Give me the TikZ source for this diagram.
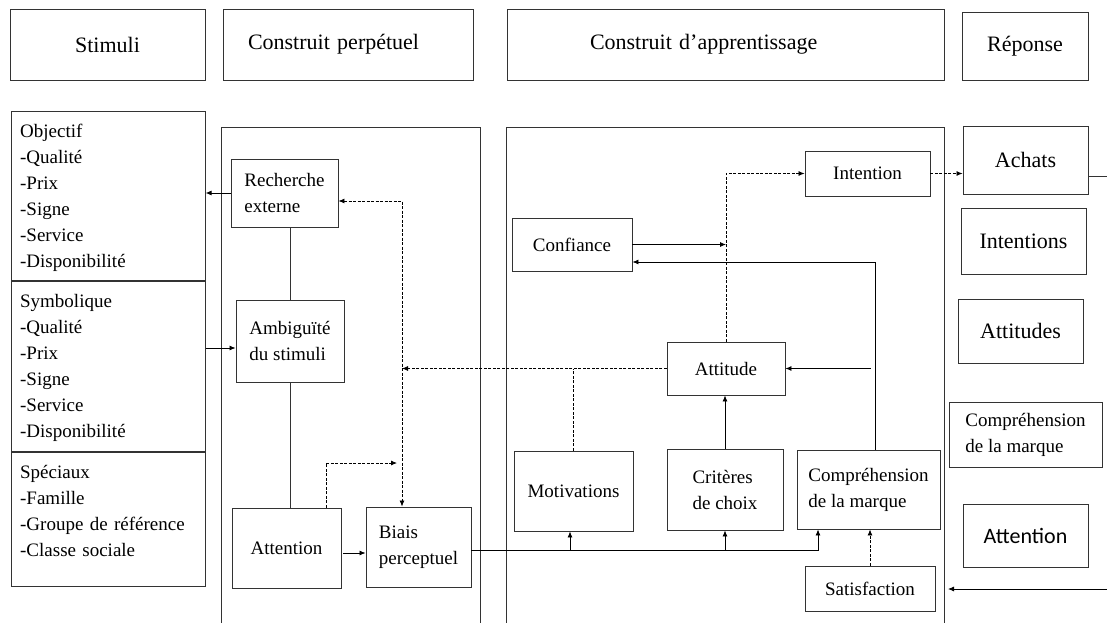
\documentclass[tikz,border=0pt]{standalone}
\usepackage{fontspec}
\setmainfont{Liberation Serif}
\newfontfamily\carlito{Carlito}
\usetikzlibrary{arrows.meta}

\tikzset{
  boite/.style={rectangle, draw=black!80, line width=0.9pt, inner sep=2pt},
  titre/.style={boite, font=\fontsize{22}{26}\selectfont},
  liste/.style={boite, anchor=north west, text width=176pt, align=left, inner xsep=9pt, inner ysep=4pt, text height=22pt},
  cadre/.style={draw=black!80, line width=0.9pt},
  fleche/.style={-{Latex[length=6pt,width=5pt]}, line width=0.8pt},
  fleches/.style={{Latex[length=6pt,width=5pt]}-{Latex[length=6pt,width=5pt]}, line width=0.8pt},
  pointille/.style={dash pattern=on 3pt off 1.5pt}
}

\begin{document}
\begin{tikzpicture}[x=1pt, y=-1pt, font=\fontsize{19}{26}\selectfont]
  \useasboundingbox (0,0) rectangle (1107,623);

  % En-tetes
  \node[titre, minimum width=195pt, minimum height=71pt] (stimuli) at (107.5,44.5) {Stimuli};
  \node[titre, text width=200pt, align=left, inner xsep=25pt, minimum height=71pt] (perpetuel) at (348,44.5) {Construit perpétuel};
  \node[titre, text width=271pt, align=left, inner xsep=83pt, minimum height=71pt] (apprentissage) at (725.5,44.5) {Construit d’apprentissage};
  \node[titre, minimum width=126pt, minimum height=68pt] (reponse) at (1025,46) {Réponse};

  % Stimuli
  \node[liste, text depth=139pt] (objectif) at (10.7,111)
    {Objectif\\-Qualité\\-Prix\\-Signe\\-Service\\-Disponibilité};
  \node[liste, text depth=140pt] (symbolique) at (objectif.south west)
    {Symbolique\\-Qualité\\-Prix\\-Signe\\-Service\\-Disponibilité};
  \node[liste, text depth=104pt] (speciaux) at (symbolique.south west)
    {Spéciaux\\-Famille\\-Groupe de référence\\-Classe sociale};

  % Cadres
  \draw[cadre] (221,623) -- (221,127) -- (480,127) -- (480,623);
  \draw[cadre] (506,623) -- (506,127) -- (944,127) -- (944,623);

  % Construit perpetuel
  \node[boite, minimum width=107pt, minimum height=68pt, align=left] (recherche) at (284.5,193) {Recherche\\externe};
  \node[boite, minimum width=108pt, minimum height=82pt, align=left] (ambiguite) at (290,341) {Ambiguïté\\du stimuli};
  \node[boite, minimum width=109pt, minimum height=80pt] (attention) at (286.5,548) {Attention};
  \node[boite, minimum width=105pt, minimum height=80pt, align=left] (biais) at (418.5,547) {Biais\\perceptuel};

  % Construit d'apprentissage
  \node[boite, minimum width=120pt, minimum height=53pt] (confiance) at (572,244.5) {Confiance};
  \node[boite, minimum width=125pt, minimum height=45pt] (intention) at (867.5,173.5) {Intention};
  \node[boite, minimum width=118pt, minimum height=53pt] (attitude) at (726,368.5) {Attitude};
  \node[boite, minimum width=119pt, minimum height=80pt] (motivations) at (573.5,491) {Motivations};
  \node[boite, minimum width=116pt, minimum height=81pt, align=left] (criteres) at (725,489.5) {Critères\\de choix};
  \node[boite, minimum width=143pt, minimum height=79pt, align=left] (comprehension) at (868.5,489.5) {Compréhension\\de la marque};
  \node[boite, minimum width=130pt, minimum height=45pt] (satisfaction) at (870,588.5) {Satisfaction};

  % Reponse
  \node[titre, minimum width=125pt, minimum height=68pt] (achats) at (1025.5,160) {Achats};
  \node[titre, minimum width=125pt, minimum height=66pt] (intentions) at (1023.5,241) {Intentions};
  \node[titre, minimum width=125pt, minimum height=64pt] (attitudes) at (1020.5,331) {Attitudes};
  \node[boite, minimum width=153pt, minimum height=65pt, align=left] (marque) at (1025.5,434.5) {Compréhension\\de la marque};
  \node[boite, minimum width=125pt, minimum height=63pt, font=\carlito\fontsize{22}{26}\selectfont] (vigilance) at (1025.5,535.5) {Attention};

  % Liaisons du construit perpetuel
  \draw[fleche] (recherche.west) -- (recherche.west -| objectif.east);
  \draw[cadre] (ambiguite.north) -- (ambiguite.north |- recherche.south);
  \coordinate (entree) at ([yshift=-7pt]ambiguite.west);
  \draw[fleche] (entree -| symbolique.east) -- (entree);
  \draw[cadre] (ambiguite.south) -- (ambiguite.south |- attention.north);
  \coordinate (a1) at ([yshift=-5pt]attention.east);
  \draw[fleche] ([xshift=2pt]a1) -- (a1 -| biais.west);

  % Liaisons en pointille
  \coordinate (croix) at (402,369);
  \coordinate (r1) at ([yshift=-8pt]recherche.east);
  \draw[pointille, fleches] (r1) -- (croix |- r1) -- (croix |- biais.north);
  \draw[pointille, fleche] (attitude.west) -- (attitude.west -| croix);
  \draw[pointille] (motivations.north) -- (motivations.north |- attitude.west);
  \coordinate (a2) at (397,463);
  \draw[pointille, fleche] ([xshift=39.5pt]attention.north) |- (a2);
  \draw[pointille, fleche] (attitude.north) |- (intention.west);
  \draw[pointille, fleche] (intention.east) -- (intention.east -| achats.west);
  \draw[pointille, fleche] (satisfaction.north) -- (satisfaction.north |- comprehension.south);

  % Liaisons du construit d'apprentissage
  \coordinate (sortie) at (1107,176);
  \draw[cadre] (achats.east |- sortie) -- (sortie);
  \draw[fleche] (confiance.east) -- (confiance.east -| attitude.north);
  \draw[fleche] ([xshift=7pt]comprehension.north) |- ([yshift=-17.5pt]confiance.east);
  \coordinate (c1) at ([xshift=2pt]comprehension.north);
  \draw[fleche] (c1 |- attitude.east) -- (attitude.east);
  \draw[fleche] (criteres.north) -- (criteres.north |- attitude.south);
  \coordinate (depart) at ([yshift=-3pt]biais.east);
  \draw[fleche] (depart) -| ([xshift=-50.5pt]comprehension.south);
  \coordinate (m1) at ([xshift=-3.5pt]motivations.south);
  \draw[fleche] (m1 |- depart) -- (m1);
  \draw[fleche] (criteres.south |- depart) -- (criteres.south);
  \coordinate (retour) at (1107,589);
  \coordinate (bord) at (948,589);
  \draw[fleche] (retour) -- (bord);
\end{tikzpicture}
\end{document}
